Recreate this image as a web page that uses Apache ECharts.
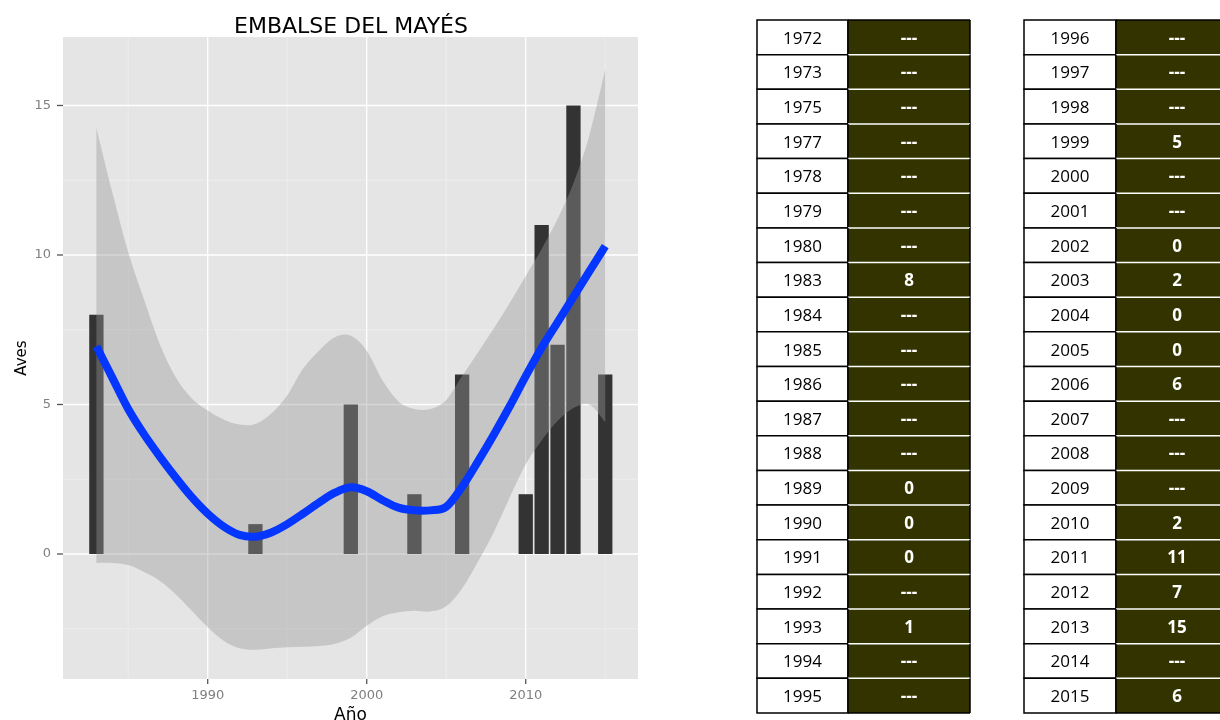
<!DOCTYPE html>
<html>
<head>
<meta charset="utf-8">
<title>EMBALSE DEL MAYÉS</title>
<script src="https://cdn.jsdelivr.net/npm/echarts@6/dist/echarts.min.js"></script>
<style>
  html, body { margin: 0; padding: 0; background: #ffffff; }
  #chart { width: 1220px; height: 720px; }
</style>
</head>
<body>
<div id="chart"></div>
<script>
// Census table: year and birds counted (null = no census, shown as "---")
const tableYearsLeft = [1972, 1973, 1975, 1977, 1978, 1979, 1980, 1983, 1984, 1985,
                        1986, 1987, 1988, 1989, 1990, 1991, 1992, 1993, 1994, 1995];
const tableCountsLeft = [null, null, null, null, null, null, null, 8, null, null,
                         null, null, null, 0, 0, 0, null, 1, null, null];
const tableYearsRight = [1996, 1997, 1998, 1999, 2000, 2001, 2002, 2003, 2004, 2005,
                         2006, 2007, 2008, 2009, 2010, 2011, 2012, 2013, 2014, 2015];
const tableCountsRight = [null, null, null, 5, null, null, 0, 2, 0, 0,
                          6, null, null, null, 2, 11, 7, 15, null, 6];

// Smoothed trend (loess fit) and its confidence band
const smoothYears = [1983, 1984, 1985, 1986, 1987, 1988, 1989, 1990, 1991, 1992, 1993,
                     1994, 1995, 1996, 1997, 1998, 1999, 2000, 2001, 2002, 2003, 2004,
                     2005, 2006, 2007, 2008, 2009, 2010, 2011, 2012, 2013, 2014, 2015];
const smoothFit = [6.95, 5.9, 4.85, 4.0, 3.25, 2.55, 1.9, 1.35, 0.92, 0.64, 0.58,
                   0.72, 1.0, 1.35, 1.72, 2.05, 2.23, 2.1, 1.8, 1.55, 1.46, 1.46,
                   1.58, 2.25, 3.1, 4.0, 4.95, 5.95, 6.9, 7.75, 8.6, 9.45, 10.3];
const smoothLower = [-0.3, -0.3, -0.37, -0.6, -0.9, -1.35, -1.9, -2.45, -2.9, -3.15, -3.2,
                     -3.15, -3.12, -3.1, -3.08, -3.0, -2.8, -2.4, -2.08, -1.95, -1.9, -1.92,
                     -1.75, -1.15, -0.25, 0.74, 1.9, 3.0, 3.8, 4.45, 4.88, 5.0, 4.41];
const smoothUpper = [14.25, 12.1, 10.1, 8.5, 7.0, 5.9, 5.2, 4.8, 4.5, 4.33, 4.35,
                     4.7, 5.3, 6.2, 6.8, 7.25, 7.3, 6.8, 5.8, 5.1, 4.85, 4.85,
                     5.15, 5.95, 6.75, 7.55, 8.4, 9.3, 10.2, 11.2, 12.4, 14.0, 16.2];

// Axis ticks and panel grid lines
const xTickValues = [1990, 2000, 2010];
const xMinorValues = [1985, 1995, 2005, 2015];
const yTickValues = [0, 5, 10, 15];
const yMinorValues = [-2.5, 2.5, 7.5, 12.5];

// Bars: every census year that has a count
const allYears = tableYearsLeft.concat(tableYearsRight);
const allCounts = tableCountsLeft.concat(tableCountsRight);
const barData = [];
allYears.forEach(function (y, i) {
  if (allCounts[i] !== null) barData.push([y, allCounts[i]]);
});

const gridLineData = []
  .concat(xTickValues.map(v => [v, 0]))
  .concat(xMinorValues.map(v => [v, 1]))
  .concat(yTickValues.map(v => [v, 2]))
  .concat(yMinorValues.map(v => [v, 3]));

const chartFont = "'DejaVu Sans', 'Liberation Sans', sans-serif";
const tableFont = "'Open Sans', 'Noto Sans', sans-serif";

// Catmull-Rom curve through screen points, as cubic Bezier path commands
function curveSegments(pts) {
  let d = '';
  for (let i = 0; i < pts.length - 1; i++) {
    const p0 = pts[i - 1] || pts[i], p1 = pts[i], p2 = pts[i + 1], p3 = pts[i + 2] || pts[i + 1];
    const c1 = [p1[0] + (p2[0] - p0[0]) / 6, p1[1] + (p2[1] - p0[1]) / 6];
    const c2 = [p2[0] - (p3[0] - p1[0]) / 6, p2[1] - (p3[1] - p1[1]) / 6];
    d += ' C' + c1[0] + ',' + c1[1] + ' ' + c2[0] + ',' + c2[1] + ' ' + p2[0] + ',' + p2[1];
  }
  return d;
}

function renderGridLine(params, api) {
  const cs = params.coordSys;
  const v = api.value(0), kind = api.value(1);
  const major = kind === 0 || kind === 2;
  let shape;
  if (kind < 2) {
    const px = api.coord([v, 0])[0];
    shape = { x1: px, y1: cs.y, x2: px, y2: cs.y + cs.height };
  } else {
    const py = api.coord([2000, v])[1];
    shape = { x1: cs.x, y1: py, x2: cs.x + cs.width, y2: py };
  }
  return {
    type: 'line', shape: shape,
    style: { stroke: major ? '#ffffff' : '#f2f2f2', lineWidth: major ? 1.3 : 0.6 }
  };
}

function renderBar(params, api) {
  const x = api.value(0), y = api.value(1);
  const p0 = api.coord([x - 0.45, y]);
  const p1 = api.coord([x + 0.45, 0]);
  return {
    type: 'rect',
    shape: { x: p0[0], y: Math.min(p0[1], p1[1]), width: p1[0] - p0[0], height: Math.abs(p1[1] - p0[1]) },
    style: { fill: '#333333' }
  };
}

function renderBand(params, api) {
  if (params.dataIndexInside !== 0) return null;
  const n = smoothYears.length;
  const up = [], lo = [];
  for (let i = 0; i < n; i++) {
    const yr = api.value(0, i);
    up.push(api.coord([yr, api.value(2, i)]));
    lo.push(api.coord([yr, api.value(1, i)]));
  }
  lo.reverse();
  const d = 'M' + up[0][0] + ',' + up[0][1] + curveSegments(up) +
            ' L' + lo[0][0] + ',' + lo[0][1] + curveSegments(lo) + ' Z';
  return {
    type: 'path', shape: { pathData: d },
    style: { fill: 'rgba(153,153,153,0.4)', stroke: null }
  };
}

function renderTrend(params, api) {
  if (params.dataIndexInside !== 0) return null;
  const pts = [];
  for (let i = 0; i < smoothYears.length; i++) {
    pts.push(api.coord([api.value(0, i), api.value(1, i)]));
  }
  const d = 'M' + pts[0][0] + ',' + pts[0][1] + curveSegments(pts);
  return {
    type: 'path', shape: { pathData: d },
    style: { fill: null, stroke: '#0436ff', lineWidth: 8, lineCap: 'butt', lineJoin: 'round' }
  };
}

// Axis tick marks below / left of the panel
function renderTick(params, api) {
  const cs = params.coordSys;
  const v = api.value(0), kind = api.value(1);
  let shape;
  if (kind === 0) {
    const px = api.coord([v, 0])[0];
    shape = { x1: px, y1: cs.y + cs.height, x2: px, y2: cs.y + cs.height + 5 };
  } else {
    const py = api.coord([2000, v])[1];
    shape = { x1: cs.x - 6, y1: py, x2: cs.x, y2: py };
  }
  return { type: 'line', shape: shape, style: { stroke: '#555555', lineWidth: 1.3 } };
}

function cellBox(params, api) {
  const cs = params.coordSys;
  const c = api.coord([0.5, api.value(1)]);
  const h = api.size([0, 1])[1];
  return { x: cs.x, y: c[1] - h / 2, w: cs.width, h: h, cx: cs.x + cs.width / 2, cy: c[1] };
}

function makeYearCellRenderer(years) {
  return function (params, api) {
    const b = cellBox(params, api);
    return {
      type: 'group',
      children: [
        { type: 'rect', shape: { x: b.x, y: b.y, width: b.w, height: b.h },
          style: { fill: '#ffffff', stroke: '#000000', lineWidth: 1.5 } },
        { type: 'text', z2: 10,
          style: { text: String(years[api.value(1)]), x: b.cx, y: b.cy + 1.5,
                   align: 'center', verticalAlign: 'middle', fill: '#000000',
                   font: '17px ' + tableFont } }
      ]
    };
  };
}

function makeCountCellRenderer(counts) {
  return function (params, api) {
    const b = cellBox(params, api);
    const idx = api.value(1);
    const c = counts[idx];
    const first = idx === 0, last = idx === counts.length - 1;
    const children = [
      { type: 'rect', shape: { x: b.x, y: b.y, width: b.w, height: b.h },
        style: { fill: '#333300' } },
      { type: 'line', shape: { x1: b.x, y1: b.y, x2: b.x + b.w, y2: b.y },
        style: { stroke: first ? '#000000' : '#ffffff', lineWidth: 1.5 } },
      { type: 'line', shape: { x1: b.x, y1: b.y, x2: b.x, y2: b.y + b.h },
        style: { stroke: '#000000', lineWidth: 1.5 } },
      { type: 'line', shape: { x1: b.x + b.w, y1: b.y, x2: b.x + b.w, y2: b.y + b.h },
        style: { stroke: '#000000', lineWidth: 1.5 } },
      { type: 'text', z2: 10,
        style: { text: c === null ? '---' : String(c), x: b.cx, y: b.cy + 1.5,
                 align: 'center', verticalAlign: 'middle', fill: '#ffffff',
                 font: 'bold 17px ' + tableFont } }
    ];
    if (last) {
      children.push({ type: 'line', shape: { x1: b.x, y1: b.y + b.h, x2: b.x + b.w, y2: b.y + b.h },
                      style: { stroke: '#000000', lineWidth: 1.5 } });
    }
    return { type: 'group', children: children };
  };
}

const hiddenValueAxis = (gi) => ({ type: 'value', gridIndex: gi, min: 0, max: 1, show: false });
const hiddenCatAxis = (gi, years) => ({ type: 'category', gridIndex: gi, data: years.map(String),
                                        inverse: true, show: false });

const tableTop = 20, tableHeight = 693;

const option = {
  animation: false,
  backgroundColor: '#ffffff',
  title: {
    text: 'EMBALSE DEL MAYÉS',
    left: 346, top: 11, textAlign: 'center',
    textStyle: { fontFamily: chartFont, fontSize: 22, fontWeight: 'normal', color: '#000000' }
  },
  grid: [
    { left: 63, top: 37, width: 575, height: 642, outerBoundsMode: 'none',
      show: true, backgroundColor: '#e5e5e5', borderWidth: 0 },
    { left: 757, top: tableTop, width: 91, height: tableHeight, outerBoundsMode: 'none' },
    { left: 848, top: tableTop, width: 122, height: tableHeight, outerBoundsMode: 'none' },
    { left: 1024, top: tableTop, width: 92, height: tableHeight, outerBoundsMode: 'none' },
    { left: 1116, top: tableTop, width: 122, height: tableHeight, outerBoundsMode: 'none' }
  ],
  xAxis: [
    {
      type: 'value', gridIndex: 0, min: 1980.9, max: 2017.06,
      name: 'Año', nameLocation: 'middle', nameGap: 23,
      nameTextStyle: { fontFamily: chartFont, fontSize: 17, color: '#000000' },
      axisLine: { show: false, onZero: false },
      axisTick: { show: false },
      axisLabel: { customValues: xTickValues, margin: 10, formatter: v => String(v),
                   fontFamily: chartFont, fontSize: 13, color: '#7f7f7f' },
      splitLine: { show: false }
    },
    hiddenValueAxis(1), hiddenValueAxis(2), hiddenValueAxis(3), hiddenValueAxis(4)
  ],
  yAxis: [
    {
      type: 'value', gridIndex: 0, min: -4.18, max: 17.29,
      name: 'Aves', nameLocation: 'middle', nameGap: 33, nameRotate: 90,
      nameTextStyle: { fontFamily: chartFont, fontSize: 15, color: '#000000' },
      axisLine: { show: false, onZero: false },
      axisTick: { show: false },
      axisLabel: { customValues: yTickValues, margin: 12, formatter: v => String(v),
                   fontFamily: chartFont, fontSize: 13, color: '#7f7f7f' },
      splitLine: { show: false }
    },
    hiddenCatAxis(1, tableYearsLeft), hiddenCatAxis(2, tableYearsLeft),
    hiddenCatAxis(3, tableYearsRight), hiddenCatAxis(4, tableYearsRight)
  ],
  series: [
    { name: 'grid lines', type: 'custom', xAxisIndex: 0, yAxisIndex: 0, silent: true,
      renderItem: renderGridLine, data: gridLineData },
    { name: 'ticks', type: 'custom', xAxisIndex: 0, yAxisIndex: 0, silent: true, clip: false,
      renderItem: renderTick,
      data: xTickValues.map(v => [v, 0]).concat(yTickValues.map(v => [v, 1])) },
    { name: 'Aves', type: 'custom', xAxisIndex: 0, yAxisIndex: 0,
      renderItem: renderBar, data: barData },
    { name: 'intervalo', type: 'custom', xAxisIndex: 0, yAxisIndex: 0, silent: true,
      renderItem: renderBand,
      data: smoothYears.map((y, i) => [y, smoothLower[i], smoothUpper[i]]) },
    { name: 'tendencia', type: 'custom', xAxisIndex: 0, yAxisIndex: 0, silent: true,
      renderItem: renderTrend,
      data: smoothYears.map((y, i) => [y, smoothFit[i]]) },
    { type: 'custom', xAxisIndex: 1, yAxisIndex: 1, renderItem: makeYearCellRenderer(tableYearsLeft),
      data: tableYearsLeft.map((y, i) => [0.5, i]) },
    { type: 'custom', xAxisIndex: 2, yAxisIndex: 2, renderItem: makeCountCellRenderer(tableCountsLeft),
      data: tableYearsLeft.map((y, i) => [0.5, i]) },
    { type: 'custom', xAxisIndex: 3, yAxisIndex: 3, renderItem: makeYearCellRenderer(tableYearsRight),
      data: tableYearsRight.map((y, i) => [0.5, i]) },
    { type: 'custom', xAxisIndex: 4, yAxisIndex: 4, renderItem: makeCountCellRenderer(tableCountsRight),
      data: tableYearsRight.map((y, i) => [0.5, i]) }
  ]
};

const chart = echarts.init(document.getElementById('chart'), null, { renderer: 'canvas' });
chart.setOption(option);
</script>
</body>
</html>
